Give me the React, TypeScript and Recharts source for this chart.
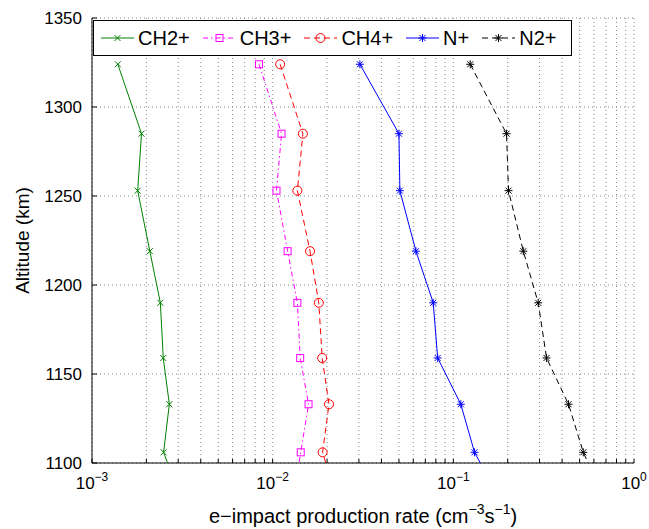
import { ScatterChart, Scatter, XAxis, YAxis, CartesianGrid, Label } from 'recharts';

// altitude levels (km); the last level is below the frame and only shows as clipped line ends
const altitudes = [1324, 1285, 1253, 1219, 1190, 1159, 1133, 1106, 1080];

// e-impact production rates (cm^-3 s^-1)
const ch2Rate = [0.00139, 0.00188, 0.00179, 0.00209, 0.00239, 0.00248, 0.00268, 0.00249, 0.0031];
const ch3Rate = [0.0084, 0.0112, 0.0105, 0.0121, 0.0137, 0.0142, 0.0158, 0.0143, 0.013];
const ch4Rate = [0.011, 0.0147, 0.0137, 0.0161, 0.018, 0.0188, 0.0205, 0.0189, 0.0225];
const nRate = [0.0304, 0.05, 0.0506, 0.0621, 0.0774, 0.0819, 0.11, 0.131, 0.18];
const n2Rate = [0.124, 0.197, 0.202, 0.244, 0.295, 0.328, 0.434, 0.524, 0.68];

const xTicks = [
  0.001, 0.002, 0.003, 0.004, 0.005, 0.006, 0.007, 0.008, 0.009,
  0.01, 0.02, 0.03, 0.04, 0.05, 0.06, 0.07, 0.08, 0.09,
  0.1, 0.2, 0.3, 0.4, 0.5, 0.6, 0.7, 0.8, 0.9, 1,
];
const decades = [0.001, 0.01, 0.1, 1];
const decadeExps = ['\u22123', '\u22122', '\u22121', '0'];
const yTicks = [1100, 1150, 1200, 1250, 1300, 1350];

const FONT = '"Liberation Sans", Arial, Helvetica, sans-serif';

type Kind = 'x' | 'square' | 'circle' | 'star';

const series = [
  { name: 'CH2+', rates: ch2Rate, color: '#008000', dash: undefined, marker: 'x' as Kind },
  { name: 'CH3+', rates: ch3Rate, color: '#ff00ff', dash: '5 3 1.5 3', marker: 'square' as Kind },
  { name: 'CH4+', rates: ch4Rate, color: '#ff0000', dash: '6 4', marker: 'circle' as Kind },
  { name: 'N+', rates: nRate, color: '#0000ff', dash: undefined, marker: 'star' as Kind },
  { name: 'N2+', rates: n2Rate, color: '#000000', dash: '6 4', marker: 'star' as Kind },
];

function marker(kind: Kind, color: string, cx: number, cy: number) {
  if (kind === 'x') {
    return (
      <path d={`M${cx - 3},${cy - 3}L${cx + 3},${cy + 3}M${cx - 3},${cy + 3}L${cx + 3},${cy - 3}`} stroke={color} strokeWidth={1} fill="none" />
    );
  }
  if (kind === 'square') {
    return <rect x={cx - 3.5} y={cy - 3.5} width={7} height={7} stroke={color} strokeWidth={1} fill="none" />;
  }
  if (kind === 'circle') {
    return <circle cx={cx} cy={cy} r={4.5} stroke={color} strokeWidth={1} fill="none" />;
  }
  return (
    <path
      d={`M${cx - 4},${cy}L${cx + 4},${cy}M${cx},${cy - 4}L${cx},${cy + 4}M${cx - 3},${cy - 3}L${cx + 3},${cy + 3}M${cx - 3},${cy + 3}L${cx + 3},${cy - 3}`}
      stroke={color}
      strokeWidth={1}
      fill="none"
    />
  );
}

function XTick({ x, y, payload }: any) {
  const i = decades.indexOf(payload.value);
  if (i < 0) return <g />;
  return (
    <text x={x} y={y + 24} textAnchor="middle" fontSize={17} fontFamily={FONT} fill="#000">
      10
      <tspan dy={-8} fontSize={12}>{decadeExps[i]}</tspan>
    </text>
  );
}

function YTick({ x, y, payload }: any) {
  return (
    <text x={x} y={y + 6} textAnchor="end" fontSize={17} fontFamily={FONT} fill="#000">
      {payload.value}
    </text>
  );
}

function ChartLegend() {
  return (
    <div
      style={{
        position: 'absolute',
        left: 93,
        top: 20,
        width: 470,
        height: 34,
        border: '1px solid #000',
        background: '#fff',
        display: 'flex',
        alignItems: 'center',
        paddingLeft: 7,
        boxSizing: 'content-box',
        fontFamily: FONT,
        fontSize: 20,
      }}
    >
      {series.map((s) => (
        <div key={s.name} style={{ display: 'flex', alignItems: 'center', marginRight: 13 }}>
          <svg width={33} height={14} style={{ marginRight: 4 }}>
            <line x1={0} y1={7} x2={33} y2={7} stroke={s.color} strokeWidth={1} strokeDasharray={s.dash} />
            {marker(s.marker, s.color, 16.5, 7)}
          </svg>
          <span>{s.name}</span>
        </div>
      ))}
    </div>
  );
}

export default function App() {
  return (
    <div style={{ position: 'absolute', left: 0, top: 0, width: 649, height: 529, background: '#fff' }}>
      <ScatterChart width={649} height={529} margin={{ top: 18, right: 15, bottom: 16, left: 32 }}>
        <CartesianGrid stroke="#888" strokeDasharray="1 3" />
        <XAxis
          type="number"
          dataKey="x"
          scale="log"
          domain={[0.001, 1]}
          ticks={xTicks}
          allowDataOverflow
          interval={0}
          height={50}
          tickSize={-4}
          tickMargin={6}
          tick={<XTick />}
          stroke="#000"
        >
          <Label
            content={({ viewBox }: any) => (
              <text x={viewBox.x + viewBox.width / 2} y={viewBox.y + 60} textAnchor="middle" fontSize={20} fontFamily={FONT} fill="#000">
                e{'\u2212'}impact production rate (cm
                <tspan dy={-9} fontSize={14}>{'\u2212'}3</tspan>
                <tspan dy={9}>s</tspan>
                <tspan dy={-9} fontSize={14}>{'\u2212'}1</tspan>
                <tspan dy={9}>)</tspan>
              </text>
            )}
          />
        </XAxis>
        <XAxis
          xAxisId="top"
          orientation="top"
          type="number"
          scale="log"
          domain={[0.001, 1]}
          ticks={xTicks}
          allowDataOverflow
          interval={0}
          height={0}
          tickSize={-4}
          tick={false}
          stroke="#000"
        />
        <YAxis
          type="number"
          dataKey="y"
          domain={[1100, 1350]}
          ticks={yTicks}
          allowDataOverflow
          interval={0}
          width={60}
          tickSize={-5}
          tickMargin={15}
          tick={<YTick />}
          stroke="#000"
        >
          <Label
            content={({ viewBox }: any) => (
              <text
                x={22}
                y={viewBox.y + viewBox.height / 2}
                transform={`rotate(-90 22 ${viewBox.y + viewBox.height / 2})`}
                textAnchor="middle"
                dominantBaseline="central"
                fontSize={19}
                fontFamily={FONT}
                fill="#000"
              >
                Altitude (km)
              </text>
            )}
          />
        </YAxis>
        <YAxis
          yAxisId="right"
          orientation="right"
          type="number"
          domain={[1100, 1350]}
          ticks={yTicks}
          allowDataOverflow
          interval={0}
          width={0}
          tickSize={-5}
          tick={false}
          stroke="#000"
        />
        {series.map((s) => (
          <Scatter
            key={s.name}
            name={s.name}
            data={s.rates.map((r, i) => ({ x: r, y: altitudes[i] }))}
            fill={s.color}
            line={{ stroke: s.color, strokeWidth: 1, strokeDasharray: s.dash }}
            shape={(p: any) => marker(s.marker, s.color, p.cx, p.cy)}
            isAnimationActive={false}
          />
        ))}
      </ScatterChart>
      <ChartLegend />
    </div>
  );
}
